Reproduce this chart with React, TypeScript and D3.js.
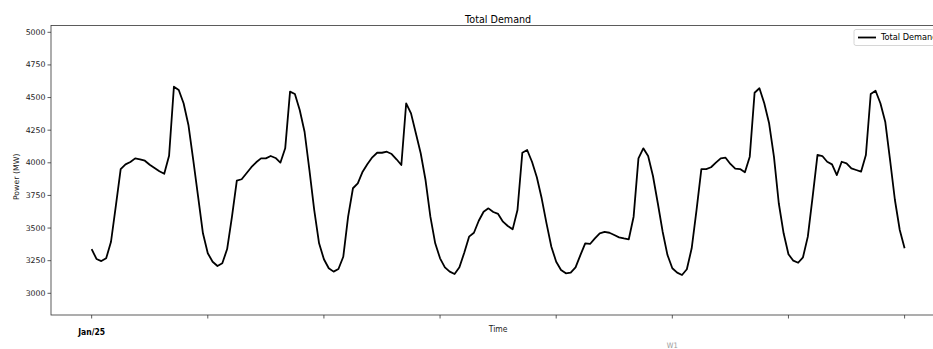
import React from "react";
import * as d3 from "d3";

const W = 933;
const H = 349;

const hours: number[] = Array.from({ length: 169 }, (_, i) => i);

const demand: number[] = [
  3339, 3263, 3247, 3268, 3395, 3670, 3952, 3988, 4006, 4034, 4027, 4016,
  3985, 3960, 3935, 3916, 4054, 4583, 4558, 4456, 4290, 4021, 3740, 3460,
  3307, 3242, 3209, 3230, 3339, 3587, 3863, 3874, 3920, 3966, 4004, 4034,
  4034, 4052, 4037, 4001, 4111, 4545, 4527, 4405, 4238, 3945, 3638, 3383,
  3261, 3192, 3166, 3186, 3280, 3587, 3805, 3843, 3932, 3991, 4042, 4077,
  4077, 4085, 4067, 4027, 3983, 4456, 4379, 4226, 4073, 3868, 3587, 3383,
  3268, 3199, 3166, 3148, 3199, 3311, 3434, 3464, 3556, 3625, 3651, 3623,
  3608, 3549, 3516, 3490, 3638, 4077, 4098, 4008, 3889, 3728, 3536, 3357,
  3242, 3179, 3153, 3158, 3199, 3293, 3383, 3378, 3421, 3460, 3470, 3464,
  3447, 3429, 3421, 3414, 3587, 4034, 4111, 4052, 3899, 3690, 3472, 3293,
  3192, 3158, 3140, 3184, 3345, 3638, 3952, 3952, 3966, 4001, 4034, 4039,
  3991, 3955, 3952, 3927, 4047, 4537, 4571, 4456, 4303, 4047, 3690, 3460,
  3299, 3250, 3234, 3276, 3434, 3740, 4060, 4052, 4008, 3988, 3906, 4008,
  3996, 3958, 3945, 3932, 4060, 4527, 4552, 4456, 4315, 4021, 3715, 3485,
  3345,
];

const yTicks: number[] = [3000, 3250, 3500, 3750, 4000, 4250, 4500, 4750, 5000];
const xTicks: number[] = [0, 24, 48, 72, 96, 120, 144, 168];
const xTickLabels: string[] = ["Jan/25", "", "", "", "", "", "", ""];

const TITLE = "Total Demand";
const SERIES = "Total Demand";

export default function App() {
  const left = 51;
  const top = 25.5;
  const bottom = 315;
  const x = d3.scaleLinear().domain([-8.4, 176.4]).range([left, left + 184.8 * 4.839]);
  const y = d3.scaleLinear().domain([3000, 5000]).range([293.3, 32.3]);
  const right = x(176.4);

  const line = d3
    .line<number>()
    .x((_, i) => x(hours[i]))
    .y((d) => y(d));

  const tickFont = "DejaVu Sans, sans-serif";
  const narrow = "'Liberation Sans Narrow', 'DejaVu Sans Condensed', sans-serif";

  return (
    <svg
      width={W}
      height={H}
      style={{ position: "absolute", left: 0, top: 0, background: "#fff" }}
    >
      <rect x={0} y={0} width={W} height={H} fill="#fff" />
      <text x={(left + right) / 2} y={22.5} textAnchor="middle" fontFamily={tickFont} fontSize={9.6} fill="#000">
        {TITLE}
      </text>

      <path d={line(demand) || ""} fill="none" stroke="#000" strokeWidth={1.8} strokeLinejoin="round" />

      <rect x={left} y={top} width={right - left} height={bottom - top} fill="none" stroke="#333" strokeWidth={0.8} />

      {yTicks.map((t) => (
        <g key={t}>
          <line x1={left - 3.5} x2={left} y1={y(t)} y2={y(t)} stroke="#333" strokeWidth={0.8} />
          <text x={left - 5.5} y={y(t)} dy="0.32em" textAnchor="end" fontFamily={tickFont} fontSize={7.8} fill="#222">
            {t}
          </text>
        </g>
      ))}
      <text
        transform={`translate(19, ${(y(3000) + y(5000)) / 2 + 14}) rotate(-90)`}
        textAnchor="middle"
        fontFamily={tickFont}
        fontSize={7.8}
        fill="#222"
      >
        Power (MW)
      </text>

      {xTicks.map((t, i) => (
        <g key={t}>
          <line x1={x(t)} x2={x(t)} y1={bottom} y2={bottom + 3.5} stroke="#333" strokeWidth={0.8} />
          {xTickLabels[i] && (
            <text x={x(t)} y={334.5} textAnchor="middle" fontFamily={narrow} fontStretch="condensed" fontWeight="bold" fontSize={8.5} fill="#000">
              {xTickLabels[i]}
            </text>
          )}
        </g>
      ))}
      <text x={(left + right) / 2} y={332} textAnchor="middle" fontFamily={narrow} fontStretch="condensed" fontSize={8.5} fill="#222">
        Time
      </text>
      <text x={x(120)} y={348} textAnchor="middle" fontFamily={narrow} fontStretch="condensed" fontSize={7.5} fill="#999">
        W1
      </text>

      <g>
        <rect x={854} y={29.5} width={100} height={16} rx={2} fill="#fff" stroke="#ccc" strokeWidth={0.8} />
        <line x1={858} x2={876} y1={37.5} y2={37.5} stroke="#000" strokeWidth={1.8} />
        <text x={881} y={37.5} dy="0.34em" fontFamily={tickFont} fontSize={8.2} fill="#000">
          {SERIES}
        </text>
      </g>
    </svg>
  );
}
